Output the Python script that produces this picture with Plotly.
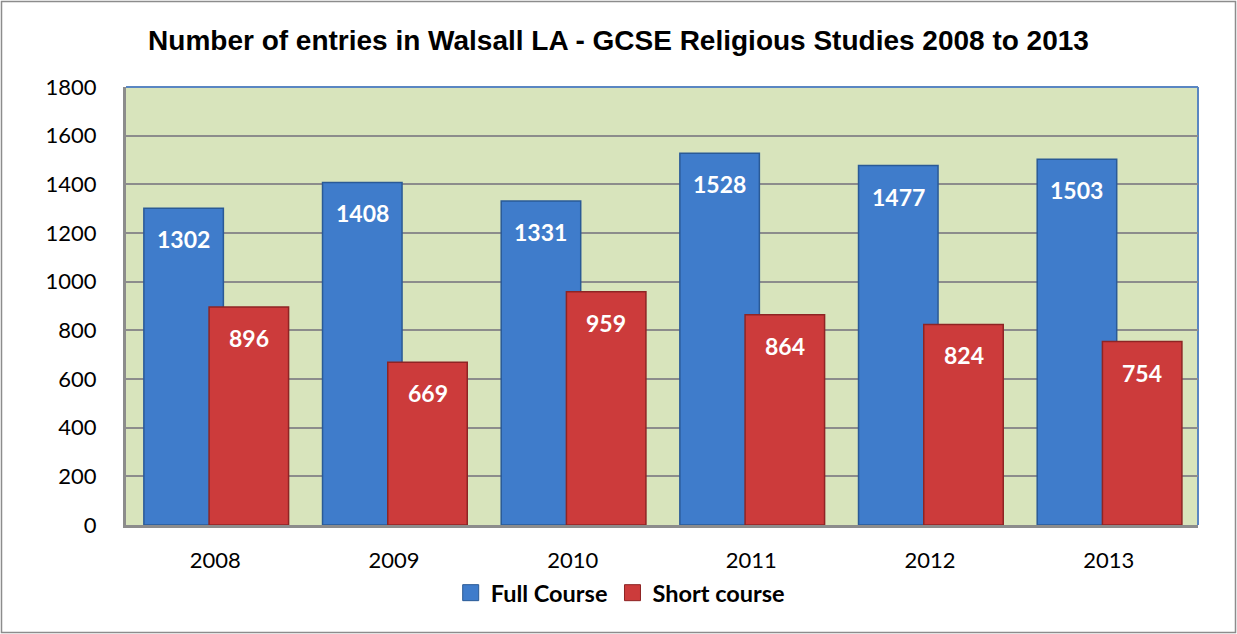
import plotly.graph_objects as go

years = ["2008", "2009", "2010", "2011", "2012", "2013"]
full_course = [1302, 1408, 1331, 1528, 1477, 1503]
short_course = [896, 669, 959, 864, 824, 754]
y_ticks = [0, 200, 400, 600, 800, 1000, 1200, 1400, 1600, 1800]

BAR_W = 0.445
FULL_OFF = -0.40
SHORT_OFF = -0.035
BLUE = "#3f7ccb"
RED = "#cc3b3b"

fig = go.Figure()
fig.add_trace(go.Bar(
    x=years, y=full_course, name="Full Course", showlegend=False,
    width=BAR_W, offset=FULL_OFF,
    marker=dict(color=BLUE, line=dict(color="#2a5a96", width=1.5)),
))
fig.add_trace(go.Bar(
    x=years, y=short_course, name="Short course", showlegend=False,
    width=BAR_W, offset=SHORT_OFF,
    marker=dict(color=RED, line=dict(color="#8e2424", width=1.5)),
))
# legend entries with larger square swatches
for name, col, lc in (("Full Course", BLUE, "#2a5a96"), ("Short course", RED, "#8e2424")):
    fig.add_trace(go.Scatter(
        x=[None], y=[None], mode="markers", name=name,
        marker=dict(symbol="square", size=19, color=col, line=dict(color=lc, width=1)),
    ))

# data labels near the top of each bar
for i, (f, s) in enumerate(zip(full_course, short_course)):
    for val, off in ((f, FULL_OFF), (s, SHORT_OFF)):
        fig.add_annotation(
            x=i + off + BAR_W / 2, y=val, xref="x", yref="y",
            text=f"<b>{val}</b>", showarrow=False, yshift=-31,
            font=dict(family="Lato", size=23, color="white", weight="bold"),
        )

PW, PH = 1072, 438
# plot area border: blue on top and right
fig.add_shape(type="line", xref="paper", yref="paper", x0=0, y0=1, x1=1, y1=1,
              line=dict(color="#5a86c2", width=2), layer="below")
fig.add_shape(type="line", xref="paper", yref="paper", x0=1, y0=0, x1=1, y1=1,
              line=dict(color="#5a86c2", width=2), layer="below")
# outer chart border
fig.add_shape(type="rect", xref="paper", yref="paper",
              x0=-124.5 / PW, x1=1 + 37.5 / PW, y0=-107.5 / PH, y1=1 + 85.5 / PH,
              line=dict(color="#8c8c8c", width=1.5))

fig.update_layout(
    width=1237, height=634,
    margin=dict(l=126, r=39, t=87, b=109),
    paper_bgcolor="white",
    plot_bgcolor="#d8e4bc",
    barmode="overlay",
    title=dict(
        text="<b>Number of entries in Walsall LA - GCSE Religious Studies 2008 to 2013</b>",
        font=dict(family="Liberation Sans", size=28, color="black"),
        x=0.5, xanchor="center", y=1 - 40 / 634, yanchor="middle",
    ),
    legend=dict(
        orientation="h", x=0.461, xanchor="center", y=-0.155, yanchor="middle",
        font=dict(family="Lato", size=23.5, color="black", weight="bold"),
        itemwidth=30, traceorder="normal", tracegroupgap=0,
        bgcolor="rgba(0,0,0,0)",
    ),
    xaxis=dict(
        type="category", showgrid=False, showline=True, linecolor="#8c8c8c", linewidth=3,
        ticks="", ticklabelstandoff=14, tickfont=dict(family="Lato", size=22, color="black"),
        range=[-0.5, 5.5],
    ),
    yaxis=dict(
        range=[0, 1800], tickvals=y_ticks, showgrid=True, gridcolor="#8c8c8c", gridwidth=2,
        showline=True, linecolor="#8c8c8c", linewidth=3, ticks="", ticklabelstandoff=22,
        tickfont=dict(family="Lato", size=22, color="black"), zeroline=False,
    ),
)

fig.write_html("out.html", config={"displayModeBar": False},
               post_script="document.body.style.margin='0';document.body.style.overflow='hidden';")
